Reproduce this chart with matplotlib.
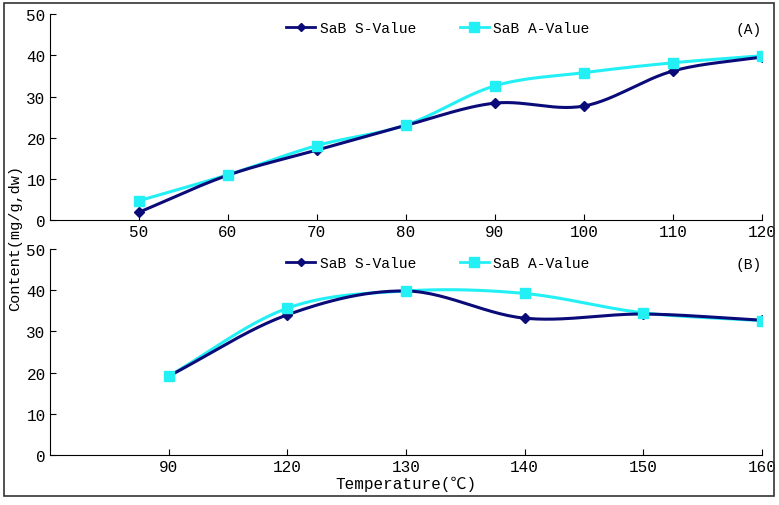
import numpy as np
import matplotlib
matplotlib.use("Agg")
import matplotlib.pyplot as plt
from matplotlib.patches import Rectangle

plt.rcParams['font.family'] = ['Liberation Mono', 'Noto Sans CJK SC', 'DejaVu Sans']

# panel A
temps_a = ["50", "60", "70", "80", "90", "100", "110", "120"]
s_a = [1.9, 10.9, 17.0, 23.0, 28.4, 27.7, 36.2, 39.6]
a_a = [4.7, 11.0, 18.1, 23.1, 32.6, 35.8, 38.2, 39.9]

# panel B
temps_b = ["90", "120", "130", "140", "150", "160"]
s_b = [19.1, 34.0, 39.8, 33.2, 34.2, 32.7]
a_b = [19.1, 35.6, 39.8, 39.2, 34.5, 32.6]

S_COLOR = '#0a0a78'
A_COLOR = '#22f0f5'


def smooth(x, y, n=30):
    # catmull-rom style smoothing, like a spreadsheet "smoothed line"
    x = np.asarray(x, float)
    y = np.asarray(y, float)
    px = np.concatenate([[2 * x[0] - x[1]], x, [2 * x[-1] - x[-2]]])
    py = np.concatenate([[2 * y[0] - y[1]], y, [2 * y[-1] - y[-2]]])
    xs, ys = [], []
    t = np.linspace(0, 1, n)
    for i in range(1, len(px) - 2):
        p0, p1, p2, p3 = px[i - 1], px[i], px[i + 1], px[i + 2]
        q0, q1, q2, q3 = py[i - 1], py[i], py[i + 1], py[i + 2]
        c1x, c1y = p1 + (p2 - p0) / 6, q1 + (q2 - q0) / 6
        c2x, c2y = p2 - (p3 - p1) / 6, q2 - (q3 - q1) / 6
        bx = (1 - t) ** 3 * p1 + 3 * (1 - t) ** 2 * t * c1x + 3 * (1 - t) * t ** 2 * c2x + t ** 3 * p2
        by = (1 - t) ** 3 * q1 + 3 * (1 - t) ** 2 * t * c1y + 3 * (1 - t) * t ** 2 * c2y + t ** 3 * q2
        xs.append(bx)
        ys.append(by)
    return np.concatenate(xs), np.concatenate(ys)


def panel(ax, labels, s_vals, a_vals, tag):
    pos = np.arange(1, len(labels) + 1)
    sx, sy = smooth(pos, s_vals)
    ax_, ay_ = smooth(pos, a_vals)
    ax.plot(sx, sy, color=S_COLOR, lw=2.2, zorder=3)
    ax.plot(pos, s_vals, ls='none', marker='D', ms=5.5, color=S_COLOR, zorder=4)
    ax.plot(ax_, ay_, color=A_COLOR, lw=2.2, zorder=2)
    ax.plot(pos, a_vals, ls='none', marker='s', ms=7.5, color=A_COLOR, zorder=5)
    # legend handles
    h1, = ax.plot([], [], color=S_COLOR, lw=2, marker='D', ms=4.5, label='SaB S-Value')
    h2, = ax.plot([], [], color=A_COLOR, lw=2, marker='s', ms=6.5, label='SaB A-Value')
    ax.legend(handles=[h1, h2], loc='upper center', bbox_to_anchor=(0.545, 1.03), ncol=2,
              frameon=False, fontsize=10.5, handlelength=2.0, columnspacing=3.0,
              handletextpad=0.3)
    ax.set_xlim(0, len(labels))
    ax.set_ylim(0, 50)
    ax.set_xticks(pos)
    ax.set_xticklabels(labels)
    ax.set_yticks(range(0, 51, 10))
    ax.spines['top'].set_visible(False)
    ax.spines['right'].set_visible(False)
    ax.tick_params(direction='in', length=4, labelsize=11.5, pad=3)
    ax.text(1.0, 0.96, tag, transform=ax.transAxes, ha='right', va='top', fontsize=10.5)


fig = plt.figure(figsize=(7.79, 5.06), dpi=100)
ax1 = fig.add_axes([0.064, 0.563, 0.914, 0.407])
ax2 = fig.add_axes([0.064, 0.099, 0.914, 0.407])

panel(ax1, temps_a, s_a, a_a, '(A)')
panel(ax2, temps_b, s_b, a_b, '(B)')

ax2.set_xlabel('Temperature(℃)', fontsize=11.5, labelpad=1)
fig.text(0.02, 0.53, 'Content(mg/g,dw)', rotation=90, ha='center', va='center', fontsize=11)

fig.patches.append(Rectangle((0.005, 0.018), 0.988, 0.975, transform=fig.transFigure,
                             fill=False, edgecolor='#333333', lw=1.2))

fig.savefig('out.png', dpi=100)
